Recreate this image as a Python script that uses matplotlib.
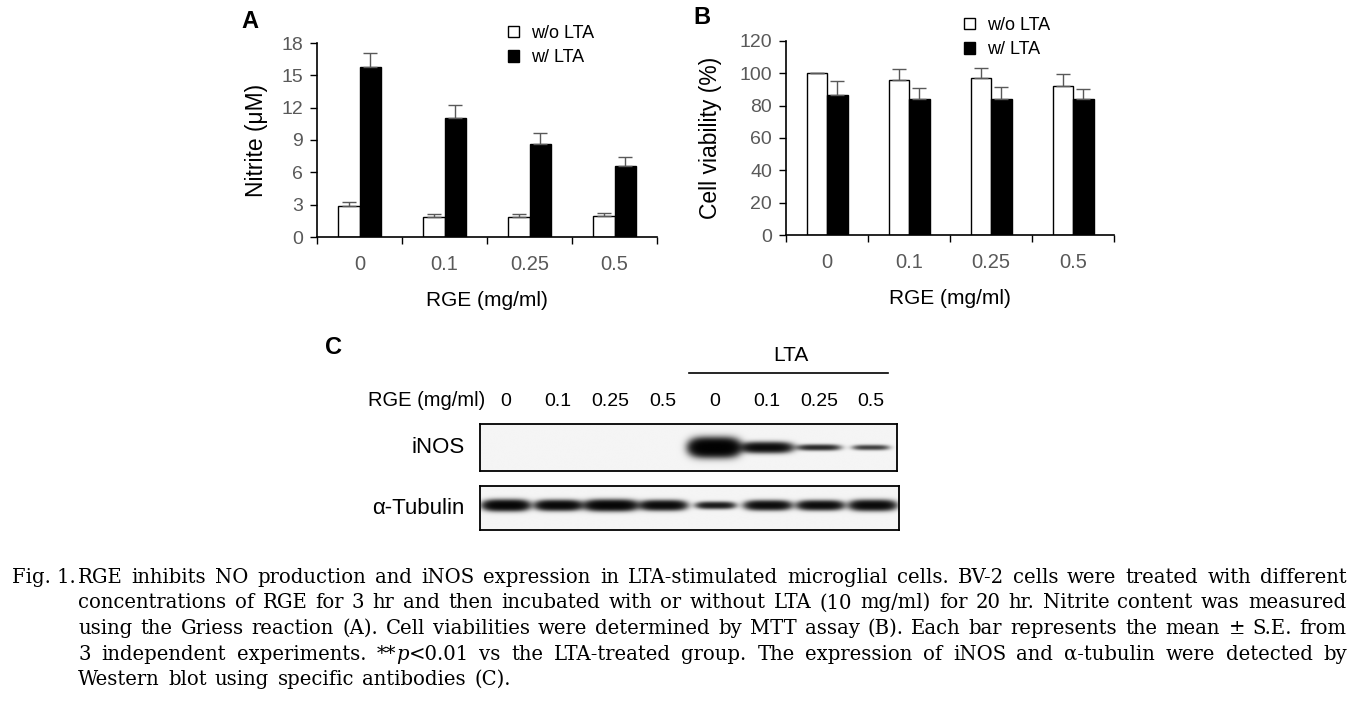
import numpy as np
import matplotlib
matplotlib.use('Agg')
import matplotlib.pyplot as plt
from matplotlib.lines import Line2D
from matplotlib.transforms import blended_transform_factory

# ---------------- data ----------------
categories = ['0', '0.1', '0.25', '0.5']
series_labels = ['w/o LTA', 'w/ LTA']

nitrite_wo = [2.9, 1.85, 1.85, 1.95]
nitrite_wo_err = [0.35, 0.25, 0.25, 0.25]
nitrite_w = [15.75, 11.0, 8.65, 6.55]
nitrite_w_err = [1.35, 1.25, 1.0, 0.9]
nitrite_ticks = [0, 3, 6, 9, 12, 15, 18]

viab_wo = [100, 96, 97, 92.3]
viab_wo_err = [0, 6.4, 6.4, 7.0]
viab_w = [86.3, 84, 84, 84]
viab_w_err = [9.0, 7.0, 7.4, 6.4]
viab_ticks = [0, 20, 40, 60, 80, 100, 120]

blot_lane_labels = ['0', '0.1', '0.25', '0.5', '0', '0.1', '0.25', '0.5']
lta_lanes = [4, 5, 6, 7]
inos_intensity = [0, 0, 0, 0, 1.6, 1.0, 0.6, 0.45]
inos_thickness = [0, 0, 0, 0, 1.05, 0.62, 0.37, 0.33]
inos_width = [0.9, 0.9, 0.9, 0.9, 0.88, 0.92, 0.78, 0.66]
tub_intensity = [1.2, 1.1, 1.2, 1.05, 0.75, 1.0, 1.0, 1.05]
tub_thickness = [0.68, 0.64, 0.68, 0.62, 0.46, 0.6, 0.6, 0.66]
tub_width = [0.82, 0.82, 0.94, 0.82, 0.7, 0.82, 0.82, 0.82]

caption_head = 'Fig. 1.'
caption_lines = [
    "RGE inhibits NO production and iNOS expression in LTA-stimulated microglial cells. BV-2 cells were treated with different",
    "concentrations of RGE for 3 hr and then incubated with or without LTA (10 mg/ml) for 20 hr. Nitrite content was measured",
    "using the Griess reaction (A). Cell viabilities were determined by MTT assay (B). Each bar represents the mean \u00b1 S.E. from",
    "3 independent experiments. **_p_<0.01 vs the LTA-treated group. The expression of iNOS and \u03b1-tubulin were detected by",
    "Western blot using specific antibodies (C).",
]

# ---------------- layout helpers ----------------
W, H = 1367, 722
plt.rcParams['font.family'] = ['Liberation Sans', 'DejaVu Sans']
fig = plt.figure(figsize=(W / 100, H / 100), dpi=100)
fig.patch.set_facecolor('white')


def fx(px):
    return px / W


def fy(py):
    return 1 - py / H


def add_ax_px(left, top, right, bottom):
    return fig.add_axes([fx(left), fy(bottom), (right - left) / W, (bottom - top) / H])


TICK_GRAY = '#595959'


def bar_panel(ax, wo, wo_err, w, w_err, yticks, ylabel, ylab_x, ylab_size, legend_xy):
    x = np.arange(len(categories))
    bw = 0.25
    ekw = dict(ecolor='#595959', elinewidth=1.0, capsize=5, capthick=1.0)
    zeros = np.zeros(len(categories))
    ax.bar(x - bw / 2, wo, bw, color='white', edgecolor='black', linewidth=1.0,
           yerr=[zeros, wo_err], error_kw=ekw, label=series_labels[0])
    ax.bar(x + bw / 2, w, bw, color='black', edgecolor='black', linewidth=1.0,
           yerr=[zeros, w_err], error_kw=ekw, label=series_labels[1])
    ax.set_xlim(-0.5, len(categories) - 0.5)
    ax.set_ylim(yticks[0], yticks[-1])
    ax.set_yticks(yticks)
    ax.set_xticks(np.arange(len(categories) + 1) - 0.5)
    ax.set_xticklabels([])
    ax.set_xticks(x, minor=True)
    ax.set_xticklabels(categories, minor=True)
    ax.tick_params(axis='x', which='major', length=5, width=1.0, direction='out')
    ax.tick_params(axis='x', which='minor', length=0, pad=13, labelsize=14.5,
                   labelcolor=TICK_GRAY)
    ax.tick_params(axis='y', length=5, width=1.0, direction='out', pad=5,
                   labelsize=14, labelcolor=TICK_GRAY)
    for s in ['top', 'right']:
        ax.spines[s].set_visible(False)
    for s in ['left', 'bottom']:
        ax.spines[s].set_linewidth(1.2)
        ax.spines[s].set_color('black')
    ax.set_ylabel(ylabel, fontsize=ylab_size)
    ax.yaxis.set_label_coords(ylab_x, 0.5)
    ax.yaxis.label.set_va('center')
    ax.set_xlabel('RGE (mg/ml)', fontsize=15)
    ax.xaxis.set_label_coords(0.5, -0.325)
    ax.xaxis.label.set_va('center')
    ax.legend(loc='upper left', bbox_to_anchor=(fx(legend_xy[0]), fy(legend_xy[1])),
              bbox_transform=fig.transFigure, frameon=False, fontsize=13,
              handlelength=0.62, handleheight=0.62, handletextpad=0.65,
              labelspacing=0.4, borderpad=0, borderaxespad=0)


# ---------------- panel A ----------------
axA = add_ax_px(317, 43, 657, 237)
bar_panel(axA, nitrite_wo, nitrite_wo_err, nitrite_w, nitrite_w_err, nitrite_ticks,
          'Nitrite (\u03bcM)', (257 - 317) / 340, 16.5, (508, 25))
fig.text(fx(250), fy(21), 'A', fontsize=17, fontweight='bold', ha='center', va='center')

# ---------------- panel B ----------------
axB = add_ax_px(786, 40.7, 1114, 235.3)
bar_panel(axB, viab_wo, viab_wo_err, viab_w, viab_w_err, viab_ticks,
          'Cell viability (%)', (711 - 786) / 328, 16.5, (964, 17))
fig.text(fx(702), fy(18), 'B', fontsize=17, fontweight='bold', ha='center', va='center')


# ---------------- panel C (western blot) ----------------
def blot_image(intensity, thickness, width, ycenter, nx=840, ny=120, base_half=0.15):
    n = len(intensity)
    xs = (np.arange(nx) + 0.5) / nx * n
    ys = (np.arange(ny) + 0.5) / ny
    X, Y = np.meshgrid(xs, ys)
    od = np.zeros_like(X)
    for i, (a, t, w) in enumerate(zip(intensity, thickness, width)):
        if a <= 0 or t <= 0:
            continue
        dx = (X - (i + 0.5)) / (0.5 * w)
        dy = (Y - ycenter) / (base_half * t)
        od += a * np.exp(-np.abs(dx) ** 4) * np.exp(-dy ** 2)
    return 0.96 * np.exp(-3.0 * od)


n_lanes = len(blot_lane_labels)
axI = add_ax_px(480, 424, 897, 471)
axT = add_ax_px(480, 486, 899, 530)
for ax, img in [(axI, blot_image(inos_intensity, inos_thickness, inos_width, 0.5)),
                (axT, blot_image(tub_intensity, tub_thickness, tub_width, 0.56))]:
    ax.imshow(img, cmap='gray', vmin=0, vmax=1, extent=[0, n_lanes, 0, 1],
              origin='lower', aspect='auto', interpolation='bilinear')
    ax.set_xlim(0, n_lanes)
    ax.set_ylim(0, 1)
    ax.set_xticks([])
    ax.set_yticks([])
    for s in ax.spines.values():
        s.set_linewidth(1.3)
        s.set_color('black')

trI = blended_transform_factory(axI.transData, fig.transFigure)
for i, lab in enumerate(blot_lane_labels):
    axI.text(i + 0.5, fy(401), lab, transform=trI, ha='center', va='center', fontsize=14)
fig.text(fx(485), fy(401), 'RGE (mg/ml)', ha='right', va='center', fontsize=14.5)
lta_lo, lta_hi = min(lta_lanes), max(lta_lanes) + 0.83
axI.add_line(Line2D([lta_lo, lta_hi], [fy(373), fy(373)], transform=trI, color='black',
                    lw=1.2, clip_on=False))
axI.text((lta_lo + lta_hi) / 2 + 0.05, fy(355), 'LTA', transform=trI, ha='center',
         va='center', fontsize=15)
fig.text(fx(465), fy(448), 'iNOS', ha='right', va='center', fontsize=16)
fig.text(fx(465), fy(508), '\u03b1-Tubulin', ha='right', va='center', fontsize=16)
fig.text(fx(333), fy(347), 'C', fontsize=17, fontweight='bold', ha='center', va='center')

# ---------------- caption (justified) ----------------
cap_font = ['DejaVu Serif']
renderer = fig.canvas.get_renderer()


def text_w(s, size, style='normal'):
    t = fig.text(0, 0, s, fontsize=size, family=cap_font, style=style)
    w = t.get_window_extent(renderer).width
    t.remove()
    return w


def segments(word):
    parts = word.split('_')
    return [(p, 'italic' if k % 2 else 'normal') for k, p in enumerate(parts) if p]


REF = 10.0
words_lines = [line.split(' ') for line in caption_lines]
wid_ref = [[sum(text_w(s, REF, st) for s, st in segments(wd)) for wd in wl] for wl in words_lines]
space_ref = text_w('a a', REF) - text_w('aa', REF)

x_head, x0, x1 = 12, 78, 1347
avail = x1 - x0
nat = max(sum(w) + space_ref * (len(w) - 1) for w in wid_ref[:-1])
size = min(15.0, REF * 0.975 * avail / nat)
scale = size / REF

base0, spacing = 583, 25.5
fig.text(fx(x_head), fy(base0), caption_head, fontsize=size, family=cap_font,
         va='baseline', ha='left')
for li, (wl, wr) in enumerate(zip(words_lines, wid_ref)):
    y = base0 + li * spacing
    widths = [w * scale for w in wr]
    if li < len(words_lines) - 1 and len(wl) > 1:
        gap = (avail - sum(widths)) / (len(wl) - 1)
    else:
        gap = space_ref * scale * 1.3
    x = x0
    for wd in wl:
        for s, st in segments(wd):
            fig.text(fx(x), fy(y), s, fontsize=size, family=cap_font, style=st,
                     va='baseline', ha='left')
            x += text_w(s, REF, st) * scale
        x += gap

fig.savefig('out.png', dpi=100, facecolor='white')
